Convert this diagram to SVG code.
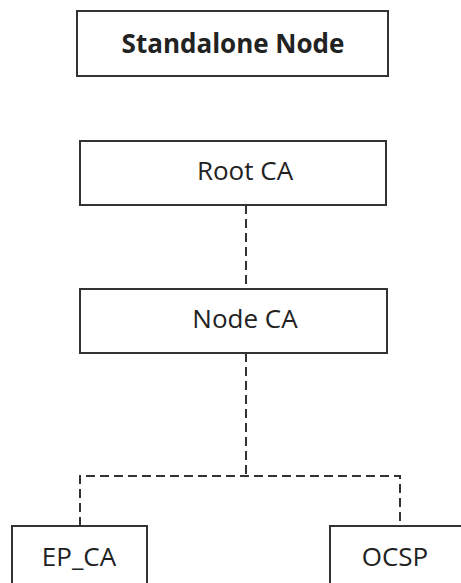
<svg xmlns="http://www.w3.org/2000/svg" width="461" height="583" viewBox="0 0 461 583">
<style>
.box{fill:#fff;stroke:#333;stroke-width:2}
.t{font-family:"Open Sans","Liberation Sans",sans-serif;font-size:26px;fill:#222;text-anchor:middle}
.b{font-weight:bold}
.c{fill:none;stroke:#333;stroke-width:2;stroke-dasharray:9,5}
</style>
<rect width="461" height="583" fill="#fff"/>
<g id="connectors">
<path class="c" d="M246 205V288"/>
<path class="c" d="M246 353V476"/>
<path class="c" d="M80 526V476H400V526"/>
</g>
<g id="standalone"><rect class="box" x="77" y="11" width="311" height="65"/><text class="t b" x="233" y="53">Standalone Node</text></g>
<g id="root"><rect class="box" x="80" y="141" width="306" height="64"/><text class="t" x="245" y="180">Root CA</text></g>
<g id="nodeca"><rect class="box" x="80" y="289" width="307" height="64"/><text class="t" x="245" y="328">Node CA</text></g>
<g id="epca"><rect class="box" x="12" y="526" width="135" height="70"/><text class="t" x="79" y="566">EP_CA</text></g>
<g id="ocsp"><rect class="box" x="330" y="526" width="150" height="70"/><text class="t" x="395" y="566">OCSP</text></g>
</svg>
